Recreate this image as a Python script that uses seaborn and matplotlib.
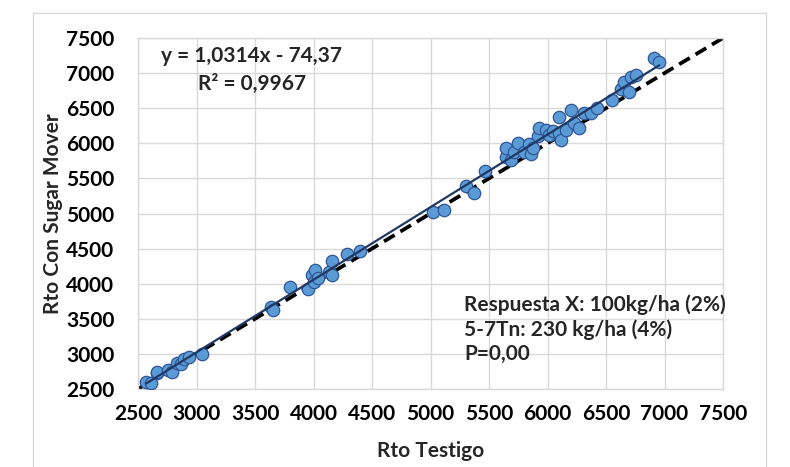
import numpy as np
import pandas as pd
import matplotlib
matplotlib.use("Agg")
import matplotlib.pyplot as plt
import seaborn as sns
from matplotlib.patches import Rectangle

# ---- data ----
rto_testigo = [2570, 2615, 2660, 2665, 2755, 2790, 2830, 2870, 2895, 2940, 3045,
               3640, 3650, 3800, 3955, 3990, 4010, 4000, 4035, 4130, 4160, 4160,
               4290, 4400, 5020, 5115, 5300, 5375, 5465,
               5645, 5645, 5685, 5710, 5750, 5795, 5840, 5860, 5880, 5915, 5925,
               5990, 6010, 6045, 6095, 6095, 6115, 6160, 6200, 6225, 6265, 6310,
               6375, 6420, 6550, 6630, 6655, 6695, 6715, 6760, 6910, 6955]
rto_sugar = [2600, 2585, 2735, 2745, 2770, 2745, 2870, 2860, 2930, 2960, 3005,
             3665, 3620, 3960, 3925, 4130, 4200, 4030, 4080, 4170, 4330, 4125,
             4420, 4470, 5025, 5050, 5390, 5295, 5600,
             5810, 5935, 5760, 5880, 6005, 5880, 5995, 5850, 5935, 6100, 6215,
             6195, 6120, 6170, 6145, 6380, 6050, 6195, 6470, 6285, 6215, 6430,
             6430, 6500, 6620, 6780, 6875, 6735, 6945, 6980, 7215, 7155]
ref_line = [2500, 7500]
ticks = [2500, 3000, 3500, 4000, 4500, 5000, 5500, 6000, 6500, 7000, 7500]
eq_text = "y = 1,0314x - 74,37\nR² = 0,9967"
note_text = "Respuesta X: 100kg/ha (2%)\n5-7Tn: 230 kg/ha (4%)\nP=0,00"
x_label = "Rto Testigo"
y_label = "Rto Con Sugar Mover"

df = pd.DataFrame({"x": rto_testigo, "y": rto_sugar})

sns.set_theme(style="white")
plt.rcParams['font.family'] = ['Lato', 'DejaVu Sans']

fig = plt.figure(figsize=(7.9, 4.67), dpi=100)
ax = fig.add_axes([138/790, 1-389/467, (723-138)/790, (389-38)/467])

# outer chart border
fig.patches.append(Rectangle((33/790, -0.01), (766-33)/790, 1-13/467+0.01,
                             transform=fig.transFigure, fill=False,
                             edgecolor="#D9D9D9", lw=1.0, zorder=0))

# 1:1 dashed line
ax.plot(ref_line, ref_line, color="black", lw=2.7, ls=(0, (3.3, 1.8)), zorder=2)

sns.scatterplot(data=df, x="x", y="y", ax=ax, s=80, color="#5B9BD5",
                edgecolor="#2F5597", linewidth=0.9, zorder=3, legend=False)
sns.regplot(data=df, x="x", y="y", ax=ax, scatter=False, ci=None, truncate=True,
            line_kws=dict(color="#1F3864", lw=1.6, zorder=4))

ax.set_xlim(2500, 7500)
ax.set_ylim(2500, 7500)
ax.set_xticks(ticks)
ax.set_yticks(ticks)
ax.set_xticklabels([str(t) for t in ticks])
ax.set_yticklabels([str(t) for t in ticks])
ax.tick_params(axis="both", length=0, labelsize=15, labelcolor="black")
ax.tick_params(axis="x", pad=11)
ax.tick_params(axis="y", pad=17)
for lab in ax.get_xticklabels() + ax.get_yticklabels():
    lab.set_fontweight("bold")
ax.grid(True, color="#D9D9D9", lw=1.0)
ax.set_axisbelow(True)
for sp in ax.spines.values():
    sp.set_color("#D9D9D9")
    sp.set_linewidth(1.0)

ax.set_xlabel(x_label, fontsize=15, fontweight="bold", labelpad=12)
ax.set_ylabel(y_label, fontsize=15, fontweight="bold", labelpad=2)

ax.text(2700, 7380, eq_text, fontsize=15, fontweight="bold", ha="left",
        va="top", linespacing=1.45, multialignment="center")
ax.text(5290, 3850, note_text, fontsize=15, fontweight="bold", ha="left",
        va="top", linespacing=1.25)

fig.savefig("out.png", dpi=100)
